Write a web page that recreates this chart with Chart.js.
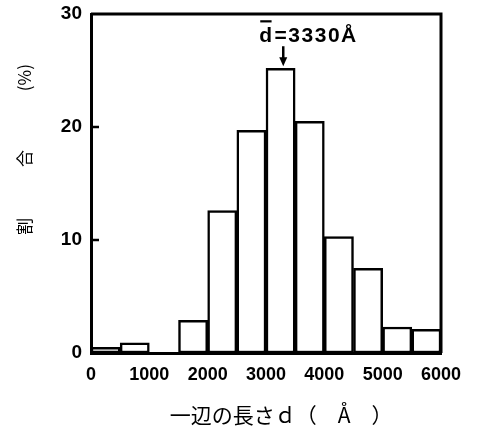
<!DOCTYPE html>
<html>
<head>
<meta charset="utf-8">
<script src="https://cdn.jsdelivr.net/npm/chart.js@4"></script>
<style>
html,body{margin:0;padding:0;background:#fff;}
#wrap{width:491px;height:428px;position:relative;}
</style>
</head>
<body>
<div id="wrap"><canvas id="c" width="491" height="428"></canvas></div>
<script>
// Histogram bins (Å): centres of 500 Å wide bins
const binCenters = [250, 750, 1250, 1750, 2250, 2750, 3250, 3750, 4250, 4750, 5250, 5750];
const percentages = [0.5, 0.9, 0, 2.9, 12.6, 19.7, 25.2, 20.5, 10.3, 7.5, 2.3, 2.1];
const xTickValues = [0, 1000, 2000, 3000, 4000, 5000, 6000];
const yTickValues = [0, 10, 20, 30];
const meanD = 3330;
const meanLabel = "=3330Å";
const xTitle = "　  一辺の長さｄ（　Å　）";
const yTitle = "　　　　割　　　合　　　  (%)";

const framePlugin = {
  id: 'frame',
  afterDraw(chart) {
    const {ctx, chartArea: a, scales} = chart;
    ctx.save();
    ctx.strokeStyle = '#000';
    ctx.lineWidth = 3;
    ctx.beginPath();
    ctx.moveTo(a.left, a.top);
    ctx.lineTo(a.right, a.top);
    ctx.lineTo(a.right, a.bottom);
    ctx.stroke();
    // inward ticks on y axis
    ctx.lineWidth = 2.5;
    yTickValues.forEach(v => {
      if (v === 0 || v === 30) return;
      const y = scales.y.getPixelForValue(v);
      ctx.beginPath();
      ctx.moveTo(a.left, y);
      ctx.lineTo(a.left + 8, y);
      ctx.stroke();
    });
    // mean annotation
    const mx = scales.x.getPixelForValue(meanD) - 2;
    const topBar = scales.y.getPixelForValue(Math.max(...percentages));
    ctx.lineWidth = 2.5;
    ctx.beginPath();
    ctx.moveTo(mx, topBar - 22);
    ctx.lineTo(mx, topBar - 8);
    ctx.stroke();
    ctx.fillStyle = '#000';
    ctx.beginPath();
    ctx.moveTo(mx - 4, topBar - 11);
    ctx.lineTo(mx + 4, topBar - 11);
    ctx.lineTo(mx, topBar - 2);
    ctx.closePath();
    ctx.fill();
    ctx.font = "bold 21px 'Liberation Sans', Arial, sans-serif";
    if ('letterSpacing' in ctx) ctx.letterSpacing = '1.5px';
    ctx.textBaseline = 'alphabetic';
    ctx.textAlign = 'left';
    const tx = mx - 24;
    const ty = topBar - 26;
    ctx.fillText('d', tx, ty);
    const dw = ctx.measureText('d').width;
    ctx.fillRect(tx + 1, ty - 22, dw - 3, 2.2);
    ctx.fillText(meanLabel, tx + dw + 1, ty);
    ctx.restore();
  }
};

new Chart(document.getElementById('c'), {
  type: 'bar',
  data: {
    datasets: [{
      data: binCenters.map((x, i) => ({x: x, y: percentages[i]})),
      backgroundColor: '#fff',
      borderColor: '#000',
      borderWidth: 2.5,
      borderSkipped: false,
      barPercentage: 1,
      categoryPercentage: 1
    }]
  },
  options: {
    responsive: false,
    animation: false,
    devicePixelRatio: 1,
    layout: {padding: {left: 0, right: 50, top: 14, bottom: 0}},
    plugins: {legend: {display: false}, tooltip: {enabled: false}},
    scales: {
      x: {
        type: 'linear',
        offset: false,
        min: 0, max: 6000,
        afterFit(s) { s.height = 75; s.paddingLeft = 0; s.paddingRight = 0; },
        afterBuildTicks(s) { s.ticks = xTickValues.map(v => ({value: v})); },
        grid: {display: false, drawTicks: false, offset: false},
        border: {display: true, color: '#000', width: 3},
        ticks: {color: '#000', font: {family: "'Liberation Sans', Arial, sans-serif", size: 18, weight: 'bold'},
          padding: 11, maxRotation: 0, autoSkip: false, callback: v => String(v)},
        title: {display: true, text: xTitle, color: '#000',
          font: {family: "'Noto Sans CJK JP', sans-serif", size: 21}, padding: {top: 0, bottom: 0}}
      },
      y: {
        min: 0, max: 30,
        afterFit(s) { s.width = 91; s.paddingTop = 0; s.paddingBottom = 0; },
        afterBuildTicks(s) { s.ticks = yTickValues.map(v => ({value: v})); },
        grid: {display: false, drawTicks: false},
        border: {display: true, color: '#000', width: 3},
        ticks: {color: '#000', font: {family: "'Liberation Sans', Arial, sans-serif", size: 19, weight: 'bold'}, padding: 9},
        title: {display: true, text: yTitle, color: '#000',
          font: {family: "'Noto Sans CJK JP', sans-serif", size: 17}, padding: {top: 14, bottom: 0}}
      }
    }
  },
  plugins: [framePlugin]
});
</script>
</body>
</html>
